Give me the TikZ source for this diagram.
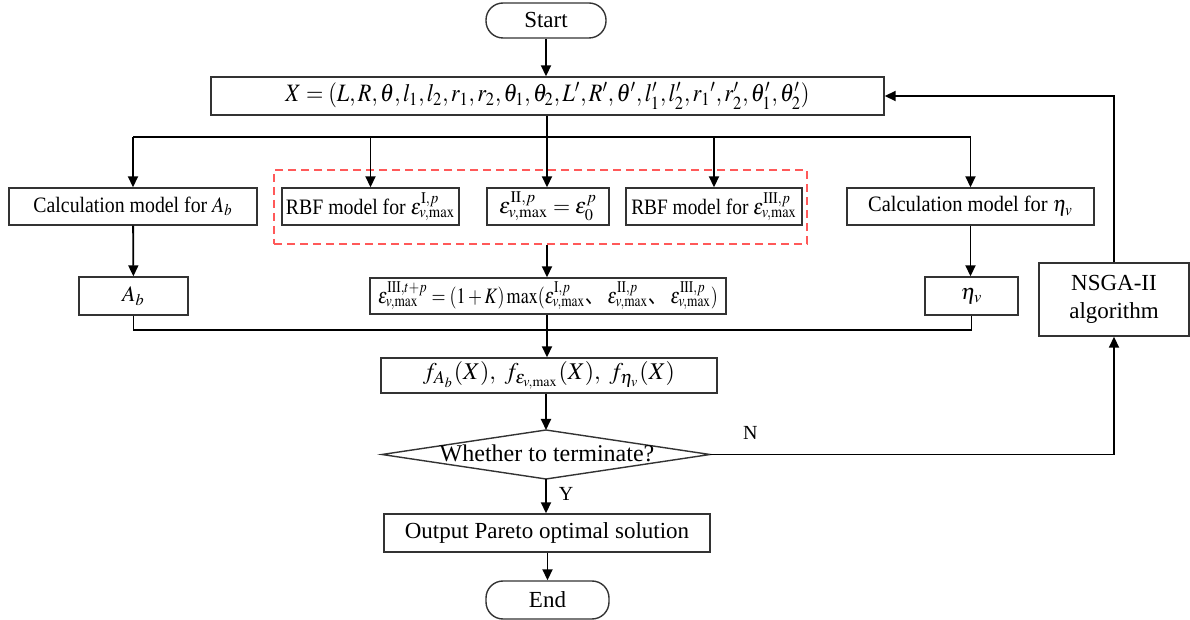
\documentclass[tikz,border=0pt]{standalone}
\usepackage{graphicx}
\usepackage{mathptmx}
\usepackage[no-math]{fontspec}
\setmainfont{Liberation Serif}
\newfontfamily\cjk{Noto Sans CJK SC}
\usetikzlibrary{arrows.meta}
\newcommand{\dun}{\mbox{\cjk 、}}
\newcommand{\sx}[2]{\scalebox{#1}[1]{#2}}
\begin{document}
\begin{tikzpicture}[x=0.5pt,y=-0.5pt,
  box/.style={draw=black!80,line width=0.7pt,rectangle,inner sep=0pt,font=\fontsize{11}{13}\selectfont},
  term/.style={box,rounded corners=8.5pt},
  conn/.style={line width=0.9pt,-{Triangle[length=5.5pt,width=5pt]}},
  line/.style={line width=0.9pt},
  lab/.style={font=\fontsize{10}{12}\selectfont,inner sep=0pt}]
\useasboundingbox (0,0) rectangle (1190,620);

\node[term,minimum width=60pt,minimum height=17.5pt,font=\fontsize{11.5}{13}\selectfont] (start) at (546,20.5) {Start};
\node[box,minimum width=336.5pt,minimum height=19pt,font=\fontsize{12.5}{14}\selectfont] (X) at (547.5,96)
 {\sx{0.89}{$X=(L,R,\theta,l_1,l_2,r_1,r_2,\theta_1,\theta_2,L',R',\theta',l_1',l_2',{r_1}',r_2',\theta_1',\theta_2')$}};

\node[draw=red!65,dash pattern=on 4pt off 2.5pt,line width=0.7pt,minimum width=266.5pt,minimum height=37pt,inner sep=0pt] (red) at (540.5,207) {};

\node[box,minimum width=124pt,minimum height=18.5pt] (calcA) at (133,206.5) {\sx{0.9}{Calculation model for $A_b$}};
\node[box,minimum width=88.5pt,minimum height=18.5pt] (rbf1) at (370.5,206.5) {\sx{0.9}{RBF model for $\varepsilon^{\mathrm{I},p}_{v,\max}$}};
\node[box,minimum width=61pt,minimum height=18.5pt] (eps2) at (548,206.5) {$\varepsilon^{\mathrm{II},p}_{v,\max}=\varepsilon^{p}_{0}$};
\node[box,minimum width=88pt,minimum height=18.5pt] (rbf3) at (714,206.5) {\sx{0.88}{RBF model for $\varepsilon^{\mathrm{III},p}_{v,\max}$}};
\node[box,minimum width=123.5pt,minimum height=18.5pt] (calcE) at (970.5,206.5) {\sx{0.93}{Calculation model for $\eta_v$}};

\node[box,minimum width=54.5pt,minimum height=19pt] (Ab) at (133.5,296) {$A_b$};
\node[box,minimum width=178pt,minimum height=18pt] (epsm) at (548,296)
 {\sx{0.82}{$\varepsilon^{\mathrm{III},t+p}_{v,\max}=(1+K)\max(\varepsilon^{\mathrm{I},p}_{v,\max}\dun\ \varepsilon^{\mathrm{II},p}_{v,\max}\dun\ \varepsilon^{\mathrm{III},p}_{v,\max})$}};
\node[box,minimum width=46.5pt,minimum height=19pt] (eta) at (971.5,296) {$\eta_v$};

\node[box,minimum width=168pt,minimum height=17.5pt,font=\fontsize{12}{14}\selectfont] (f) at (549,375.5)
 {$f_{A_b}(X),\ f_{\varepsilon_{v,\max}}(X),\ f_{\eta_v}(X)$};

\coordinate (dN) at (546,430);
\coordinate (dS) at (546,479);
\coordinate (dW) at (382,454.5);
\coordinate (dE) at (710,454.5);
\draw[line width=0.7pt,draw=black!80] (dN) -- (dE) -- (dS) -- (dW) -- cycle;
\node[lab,font=\fontsize{12}{14}\selectfont] (dia) at (547,453) {Whether to terminate?};

\node[box,minimum width=163pt,minimum height=19pt,font=\fontsize{11.5}{13}\selectfont] (out) at (547,533) {Output Pareto optimal solution};
\node[term,minimum width=61.5pt,minimum height=19pt,font=\fontsize{11.5}{13}\selectfont] (end) at (547.5,600) {End};

\node[box,minimum width=75pt,minimum height=36.5pt,align=center,font=\fontsize{11.5}{14}\selectfont] (nsga) at (1114,299.5) {NSGA-II\\algorithm};

% connectors
\draw[conn] (start) -- (X.north -| start);
\coordinate (br) at (547,137);
\draw[line] (X.south -| br) -- (br);
\draw[line] (calcA.north |- br) -- (calcE.north |- br);
\draw[conn] (calcA.north |- br) -- (calcA.north);
\draw[conn] (rbf1.north |- br) -- (rbf1.north);
\draw[conn] (br) -- (eps2.north -| br);
\draw[conn] (rbf3.north |- br) -- (rbf3.north);
\draw[conn] (calcE.north |- br) -- (calcE.north);

\draw[conn] (calcA) -- (Ab);
\draw[conn] (calcE.south) -- (calcE.south |- eta.north);
\draw[conn] (red.south -| br) -- (epsm.north -| br);

\coordinate (col) at (547,330);
\draw[line] (Ab.south) -- (Ab.south |- col) -- (eta.south |- col) -- (eta.south);
\draw[conn] (epsm.south -| br) -- (f.north -| br);
\draw[conn] (f.south -| dN) -- (dN);
\draw[conn] (dS) -- node[lab,right=6pt,pos=0.45] (Y) {Y} (out.north -| dS);
\draw[conn] (out.south -| end) -- (end);
\draw[conn] (dE) -- node[lab,above=7pt,pos=0.1] (N) {N} (nsga.south |- dE) -- (nsga.south);
\draw[conn] (nsga.north) -- (nsga.north |- X.east) -- (X.east);
\end{tikzpicture}
\end{document}
